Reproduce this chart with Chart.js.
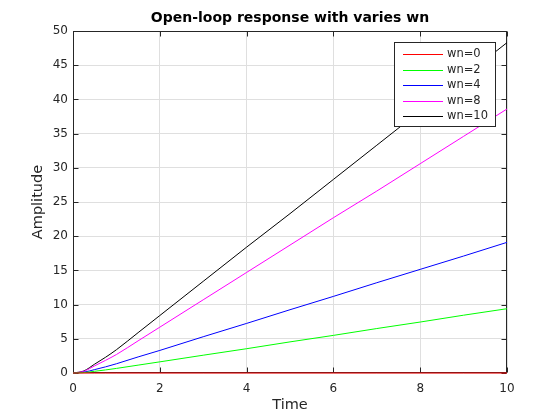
<!DOCTYPE html>
<html>
<head>
<meta charset="utf-8">
<script src="https://cdn.jsdelivr.net/npm/chart.js@4.4.1/dist/chart.umd.min.js"></script>
<style>
  html, body { margin: 0; padding: 0; background: #fff; }
  #wrap { width: 560px; height: 420px; }
</style>
</head>
<body>
<div id="wrap"><canvas id="chart" width="560" height="420"></canvas></div>
<script>
// values
const times = [0, 0.25, 0.5, 0.75, 1, 1.5, 2, 3, 4, 5, 6, 7, 8, 9, 10];
const wn0 = [0, 0, 0, 0, 0, 0, 0, 0, 0, 0, 0, 0, 0, 0, 0];
const wn2 = [0, 0.06, 0.25, 0.45, 0.67, 1.15, 1.63, 2.6, 3.55, 4.55, 5.5, 6.5, 7.45, 8.45, 9.4];
const wn4 = [0, 0.12, 0.5, 0.9, 1.35, 2.35, 3.3, 5.3, 7.25, 9.25, 11.2, 13.2, 15.15, 17.1, 19.1];
const wn8 = [0, 0.25, 1.05, 1.85, 2.7, 4.7, 6.7, 10.7, 14.7, 18.7, 22.7, 26.6, 30.6, 34.6, 38.6];
const wn10 = [0, 0.3, 1.3, 2.3, 3.4, 5.9, 8.4, 13.4, 18.4, 23.3, 28.3, 33.3, 38.3, 43.3, 48.3];
const seriesNames = ['wn=0', 'wn=2', 'wn=4', 'wn=8', 'wn=10'];
const titleText = 'Open-loop response with varies wn';

const FONT = 'DejaVu Sans';
const TEXT = '#262626';

const makeSet = (label, values, color) => ({
    label: label,
    data: times.map((t, i) => ({ x: t, y: values[i] })),
    borderColor: color,
    backgroundColor: color,
    borderWidth: 1,
    pointRadius: 0,
    cubicInterpolationMode: 'monotone',
    clip: 3,
    fill: false
});

// box with inward ticks (under the lines), title and legend (on top)
const framePlugin = {
    id: 'frame',
    beforeDatasetsDraw(chart) {
        const ctx = chart.ctx;
        const a = chart.chartArea;
        const xs = chart.scales.x;
        const ys = chart.scales.y;
        const L = Math.round(a.left) + 0.5, R = Math.round(a.right) - 0.5;
        const T = Math.round(a.top) + 0.5, B = Math.round(a.bottom) - 0.5;
        ctx.save();
        ctx.strokeStyle = TEXT;
        ctx.lineWidth = 1;
        ctx.strokeRect(L, T, R - L, B - T);
        ctx.beginPath();
        xs.ticks.forEach(tk => {
            const px = Math.round(xs.getPixelForValue(tk.value)) + 0.5;
            ctx.moveTo(px, B); ctx.lineTo(px, B - 5);
            ctx.moveTo(px, T); ctx.lineTo(px, T + 5);
        });
        ys.ticks.forEach(tk => {
            const py = Math.round(ys.getPixelForValue(tk.value)) + 0.5;
            ctx.moveTo(L, py); ctx.lineTo(L + 5, py);
            ctx.moveTo(R, py); ctx.lineTo(R - 5, py);
        });
        ctx.stroke();
        ctx.restore();
    },
    afterDatasetsDraw(chart) {
        const ctx = chart.ctx;
        const a = chart.chartArea;
        ctx.save();
        // title centred over the axes
        ctx.fillStyle = '#000';
        ctx.font = 'bold 14px "' + FONT + '"';
        ctx.textAlign = 'center';
        ctx.textBaseline = 'middle';
        ctx.fillText(titleText, (a.left + a.right) / 2, 18);

        // legend
        const bx = 394.5, by = 42.5, bw = 101, bh = 84;
        ctx.fillStyle = '#fff';
        ctx.fillRect(bx, by, bw, bh);
        ctx.strokeStyle = TEXT;
        ctx.lineWidth = 1;
        ctx.strokeRect(bx, by, bw, bh);
        ctx.font = '11.5px "' + FONT + '"';
        ctx.textAlign = 'left';
        chart.data.datasets.forEach((ds, i) => {
            const y = Math.round(54 + i * 15.6) + 0.5;
            ctx.strokeStyle = ds.borderColor;
            ctx.beginPath();
            ctx.moveTo(403, y);
            ctx.lineTo(443, y);
            ctx.stroke();
            ctx.fillStyle = TEXT;
            ctx.fillText(ds.label, 447, y);
        });
        ctx.restore();
    }
};

new Chart(document.getElementById('chart'), {
    type: 'line',
    data: {
        datasets: [
            makeSet(seriesNames[0], wn0, '#ff0000'),
            makeSet(seriesNames[1], wn2, '#00ff00'),
            makeSet(seriesNames[2], wn4, '#0000ff'),
            makeSet(seriesNames[3], wn8, '#ff00ff'),
            makeSet(seriesNames[4], wn10, '#000000')
        ]
    },
    options: {
        responsive: false,
        animation: false,
        devicePixelRatio: 1,
        layout: { padding: { left: 0, right: 53, top: 31, bottom: 0 } },
        plugins: {
            legend: { display: false },
            tooltip: { enabled: false },
            title: { display: false }
        },
        scales: {
            x: {
                type: 'linear',
                min: 0,
                max: 10,
                ticks: { stepSize: 2, color: TEXT, padding: 9, maxRotation: 0,
                         font: { family: FONT, size: 12 } },
                grid: { color: '#dfdfdf', drawTicks: false },
                border: { display: false },
                title: { display: true, text: 'Time', color: TEXT,
                         font: { family: FONT, size: 14.5 }, padding: { top: 0, bottom: 6.3 } },
                afterFit(scale) { scale.height = 47; }
            },
            y: {
                min: 0,
                max: 50,
                ticks: { stepSize: 5, color: TEXT, padding: 5,
                         font: { family: FONT, size: 12 } },
                grid: { color: '#dfdfdf', drawTicks: false },
                border: { display: false },
                title: { display: true, text: 'Amplitude', color: TEXT,
                         font: { family: FONT, size: 14.5 }, padding: { top: 29.3, bottom: 0 } },
                afterFit(scale) { scale.width = 73; }
            }
        }
    },
    plugins: [framePlugin]
});
</script>
</body>
</html>
